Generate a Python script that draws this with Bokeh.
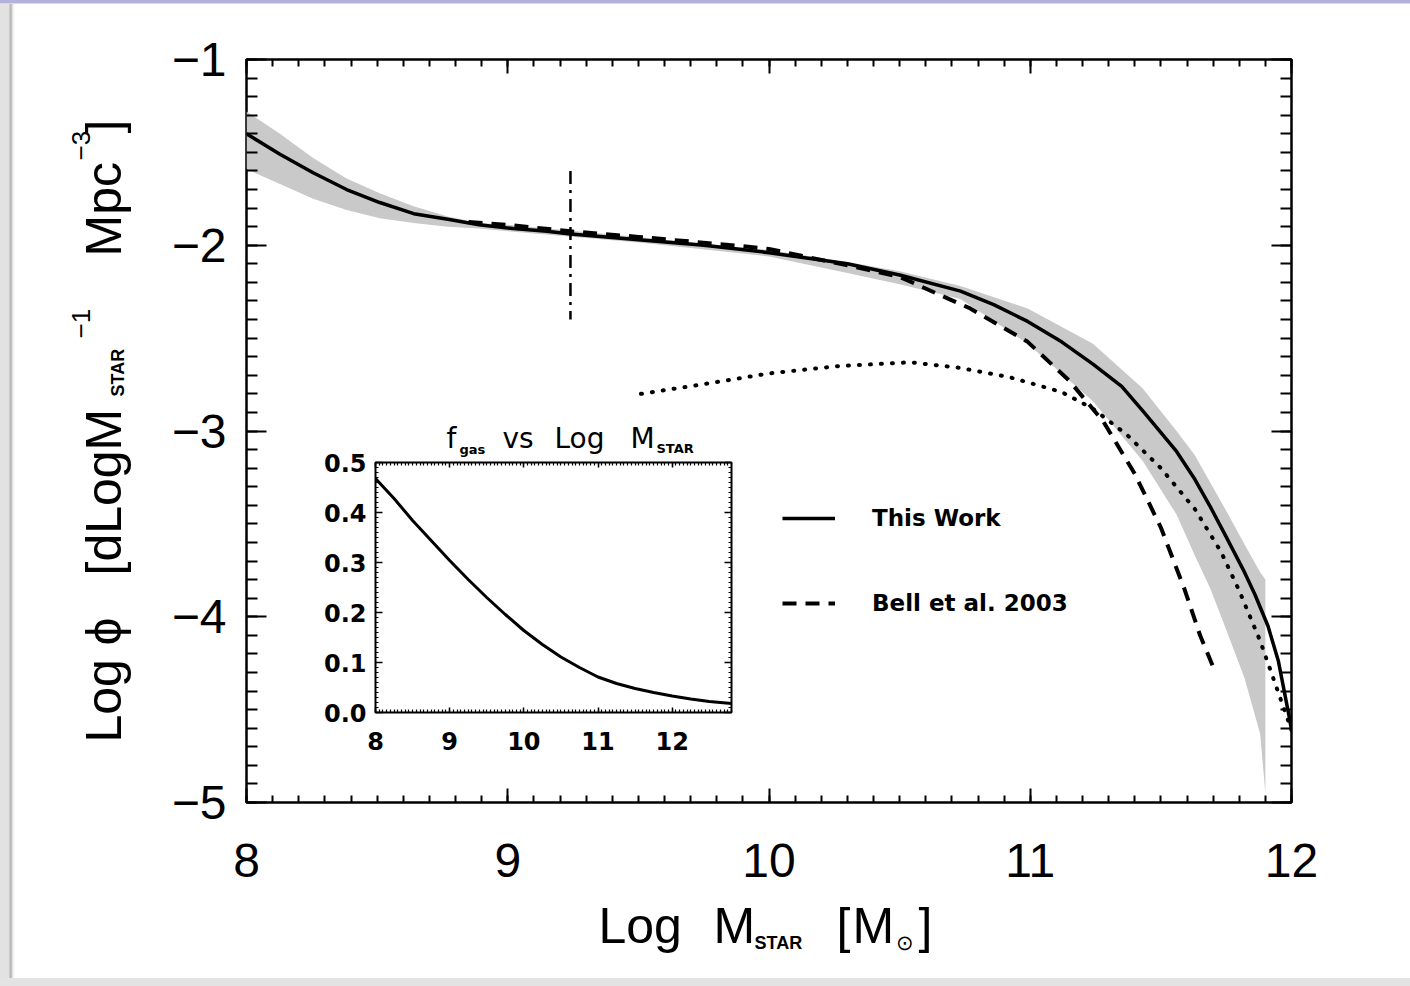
import math

from bokeh.embed import file_html
from bokeh.models import (FixedTicker, Label, Legend, LegendItem, LinearAxis,
                          PrintfTickFormatter, Range1d, SingleIntervalTicker)
from bokeh.plotting import figure
from bokeh.resources import INLINE

# ---------------------------------------------------------------------------
# Stellar mass function: log M_star vs log phi
# ---------------------------------------------------------------------------
band_x = [8.0, 8.128, 8.255, 8.383, 8.51, 8.64, 8.77, 8.89, 9.0, 9.5, 10.0,
          10.3, 10.5, 10.733, 10.99, 11.24, 11.43, 11.56, 11.63, 11.69, 11.75,
          11.82, 11.88, 11.9]
band_hi = [-1.28, -1.40, -1.53, -1.64, -1.72, -1.79, -1.845, -1.88, -1.89,
           -1.955, -2.025, -2.09, -2.14, -2.22, -2.34, -2.53, -2.77, -3.00,
           -3.13, -3.28, -3.43, -3.61, -3.76, -3.80]
band_lo = [-1.59, -1.67, -1.75, -1.81, -1.855, -1.88, -1.90, -1.91, -1.925,
           -1.985, -2.06, -2.15, -2.21, -2.29, -2.53, -2.84, -3.16, -3.45,
           -3.67, -3.85, -4.07, -4.33, -4.63, -4.95]

this_work_x = [8.0, 8.128, 8.255, 8.383, 8.51, 8.64, 8.77, 8.89, 9.02, 9.15,
               9.24, 9.5, 9.75, 10.0, 10.3, 10.5, 10.733, 10.86, 10.99, 11.12,
               11.24, 11.35, 11.43, 11.56, 11.63, 11.69, 11.75, 11.82, 11.86,
               11.91, 11.95, 11.99, 12.0]
this_work_y = [-1.40, -1.51, -1.61, -1.70, -1.77, -1.83, -1.86, -1.89, -1.91,
               -1.925, -1.94, -1.97, -2.00, -2.04, -2.10, -2.16, -2.247, -2.32,
               -2.41, -2.52, -2.64, -2.76, -2.89, -3.11, -3.26, -3.41, -3.57,
               -3.76, -3.88, -4.05, -4.24, -4.53, -4.61]

bell_x = [8.85, 9.0, 9.24, 9.5, 9.9, 10.0, 10.34, 10.5, 10.69, 10.77, 10.99,
          11.15, 11.28, 11.40, 11.50, 11.59, 11.65, 11.70]
bell_y = [-1.875, -1.89, -1.925, -1.955, -2.005, -2.02, -2.12, -2.17, -2.29,
          -2.34, -2.52, -2.73, -2.95, -3.23, -3.52, -3.85, -4.10, -4.27]

dotted_x = [9.51, 9.74, 10.0, 10.27, 10.54, 10.73, 10.92, 11.12, 11.24, 11.37,
            11.50, 11.63, 11.73, 11.80, 11.88, 11.96, 12.0]
dotted_y = [-2.80, -2.75, -2.69, -2.65, -2.63, -2.66, -2.71, -2.79, -2.88,
            -3.02, -3.20, -3.42, -3.65, -3.86, -4.13, -4.45, -4.61]

cut_x = [9.24, 9.24]
cut_y = [-1.60, -2.40]

y_ticks = [-1, -2, -3, -4, -5]
y_tick_labels = ["\u22121", "\u22122", "\u22123", "\u22124", "\u22125"]

legend_labels = ["This Work", "Bell et al. 2003"]

# ---------------------------------------------------------------------------
# Inset: gas fraction vs log M_star
# ---------------------------------------------------------------------------
gas_x = [8.0, 8.25, 8.5, 8.75, 9.0, 9.25, 9.5, 9.75, 10.0, 10.25, 10.5,
         10.75, 11.0, 11.25, 11.5, 11.75, 12.0, 12.25, 12.5, 12.8]
gas_f = [0.468, 0.428, 0.384, 0.344, 0.304, 0.266, 0.23, 0.196, 0.164, 0.136,
         0.111, 0.09, 0.071, 0.058, 0.048, 0.04, 0.033, 0.027, 0.022, 0.018]
inset_x_ticks = [8, 9, 10, 11, 12]
inset_y_ticks = [0.0, 0.1, 0.2, 0.3, 0.4, 0.5]

FONT = "Liberation Sans"
FONT_BOLD = "DejaVu Sans"

# page geometry of the main frame
W, H = 1410, 986
FL, FR, FT, FB = 246, 1291, 59, 802

p = figure(width=W, height=H, output_backend="svg", toolbar_location=None,
           x_range=Range1d(8, 12), y_range=Range1d(-5, -1),
           min_border_left=FL, min_border_right=W - FR,
           min_border_top=FT, min_border_bottom=H - FB,
           background_fill_color="white", border_fill_color=None,
           outline_line_color="black", outline_line_width=2.5,
           x_axis_type=None, y_axis_type=None)
p.xgrid.visible = False
p.ygrid.visible = False
p.styles = {
    "background": (
        "linear-gradient(#b2b2da,#b2b2da) 0 0/100% 3px no-repeat,"
        "linear-gradient(#d9d9d9,#d9d9d9) 0 3px/100% 1px no-repeat,"
        "linear-gradient(#e3e3e3,#e3e3e3) 0 100%/100% 8px no-repeat,"
        "linear-gradient(90deg,#e2e2e2 0px,#e2e2e2 9px,#b6b6b6 10px,"
        "#b6b6b6 11px,#efefef 13px,#ffffff 15px) 0 0/15px 100% no-repeat,"
        "#ffffff"
    )
}


def style_axis(ax, tick_major, tick_minor, show_labels, size="48px",
               font=FONT):
    ax.axis_line_color = None
    ax.major_tick_in = tick_major
    ax.major_tick_out = 0
    ax.minor_tick_in = tick_minor
    ax.minor_tick_out = 0
    ax.major_tick_line_color = "black"
    ax.minor_tick_line_color = "black"
    ax.major_tick_line_width = 2
    ax.minor_tick_line_width = 2
    ax.major_label_text_font = font
    ax.major_label_text_color = "black"
    if show_labels:
        ax.major_label_text_font_size = size
    else:
        ax.major_label_text_font_size = "0px"
        ax.major_label_text_alpha = 0


xtick = SingleIntervalTicker(interval=1, num_minor_ticks=10)
ytick = SingleIntervalTicker(interval=1, num_minor_ticks=10)

xb = LinearAxis(ticker=xtick, major_label_standoff=41)
style_axis(xb, 14, 7, True)
xt = LinearAxis(ticker=xtick)
style_axis(xt, 14, 7, False)
yl = LinearAxis(ticker=ytick, major_label_standoff=20,
                major_label_overrides=dict(zip(y_ticks, y_tick_labels)))
style_axis(yl, 20, 11, True)
yr = LinearAxis(ticker=ytick)
style_axis(yr, 20, 11, False)
p.add_layout(xb, "below")
p.add_layout(xt, "above")
p.add_layout(yl, "left")
p.add_layout(yr, "right")

# uncertainty band and curves
p.varea(x=band_x, y1=band_lo, y2=band_hi, fill_color="#c9c9c9")
r_solid = p.line(this_work_x, this_work_y, line_color="black", line_width=3.5,
                 line_join="round")
r_bell = p.line(bell_x, bell_y, line_color="black", line_width=4,
                line_dash="14 9")
p.line(dotted_x, dotted_y, line_color="black", line_width=4,
       line_dash="1 10", line_cap="round")
p.line(cut_x, cut_y, line_color="black", line_width=2.5,
       line_dash="13 6 3 6")

legend = Legend(items=[LegendItem(label=legend_labels[0], renderers=[r_solid]),
                       LegendItem(label=legend_labels[1], renderers=[r_bell])],
                location=(782 - FL, FB - 618), orientation="vertical",
                padding=0, margin=0, spacing=55, glyph_width=53,
                glyph_height=30, label_height=30, label_standoff=37,
                label_text_font=FONT_BOLD, label_text_font_size="23px",
                label_text_font_style="bold", label_text_color="black",
                border_line_color=None, background_fill_alpha=0)
p.add_layout(legend)

# ---------------------------------------------------------------------------
# inset figure, floated over the main frame
# ---------------------------------------------------------------------------
IL, IT = 300, 410            # page position of the inset canvas
IFL, IFR, IFT, IFB = 375, 731, 462, 712
iw = (IFR - IL) + 12
ih = (IFB - IT) + 50
inset = figure(width=iw, height=ih, output_backend="svg",
               toolbar_location=None,
               x_range=Range1d(8, 12.8), y_range=Range1d(0, 0.5),
               min_border_left=IFL - IL, min_border_right=12,
               min_border_top=IFT - IT, min_border_bottom=50,
               background_fill_color=None, border_fill_color=None,
               outline_line_color="black", outline_line_width=2,
               x_axis_type=None, y_axis_type=None)
inset.xgrid.visible = False
inset.ygrid.visible = False
inset.styles = {"position": "absolute", "left": f"{IL}px", "top": f"{IT}px",
                "z-index": "2"}

ix_minor = [8 + 0.05 * i for i in range(97)]
iy_minor = [0.01 * i for i in range(51)]
ixt = FixedTicker(ticks=inset_x_ticks, minor_ticks=ix_minor)
iyt = FixedTicker(ticks=inset_y_ticks, minor_ticks=iy_minor)


def style_inset_axis(ax, tmaj, tmin, show):
    style_axis(ax, tmaj, tmin, show, size="24px", font=FONT_BOLD)
    ax.major_tick_line_width = 1.5
    ax.minor_tick_line_width = 1.2
    ax.major_label_text_font_style = "bold"


ixb = LinearAxis(ticker=ixt, major_label_standoff=19)
style_inset_axis(ixb, 5, 3, True)
ixa = LinearAxis(ticker=ixt)
style_inset_axis(ixa, 5, 3, False)
iyl = LinearAxis(ticker=iyt, major_label_standoff=9,
                 formatter=PrintfTickFormatter(format="%.1f"))
style_inset_axis(iyl, 7, 3, True)
iyr = LinearAxis(ticker=iyt)
style_inset_axis(iyr, 7, 3, False)
inset.add_layout(ixb, "below")
inset.add_layout(ixa, "above")
inset.add_layout(iyl, "left")
inset.add_layout(iyr, "right")

inset.line(gas_x, gas_f, line_color="black", line_width=3, line_join="round")

# ---------------------------------------------------------------------------
# transparent full-page layer carrying the composite axis titles
# ---------------------------------------------------------------------------
titles = figure(width=W, height=H, output_backend="svg",
                toolbar_location=None, title=None,
                x_range=Range1d(0, W), y_range=Range1d(0, H),
                min_border=0, min_border_left=0, min_border_right=0,
                min_border_top=0, min_border_bottom=0,
                background_fill_color=None, border_fill_color=None,
                outline_line_color=None, x_axis_type=None, y_axis_type=None)
titles.xgrid.visible = False
titles.ygrid.visible = False
titles.styles = {"position": "absolute", "left": "0px", "top": "0px",
                 "z-index": "3", "pointer-events": "none"}


def add_text(px, py, text, size, style="normal", vertical=False, font=FONT):
    """Place a text piece whose baseline starts at page pixel (px, py)."""
    lift = 0.35 * size          # baseline -> middle of the em box
    if vertical:
        ax, ay, ang = px - lift, py, math.pi / 2
    else:
        ax, ay, ang = px, py - lift, 0.0
    titles.add_layout(Label(x=ax, y=H - ay, x_units="data", y_units="data",
                            text=text, text_font=font,
                            text_font_size=f"{size}px", text_font_style=style,
                            text_color="black", text_align="left",
                            text_baseline="middle", angle=ang))


# x-axis title: Log M_STAR [M_sun]
for px, py, txt, sz, st in [(598, 943, "Log", 50, "normal"),
                            (713, 943, "M", 50, "normal"),
                            (754, 949, "STAR", 18, "bold"),
                            (836, 943, "[", 50, "normal"),
                            (852, 943, "M", 50, "normal"),
                            (895, 949, "\u2299", 21, "normal"),
                            (918, 943, "]", 50, "normal")]:
    add_text(px, py, txt, sz, st)

# y-axis title: Log phi [dLogM_STAR^-1 Mpc^-3]
for px, py, txt, sz, st in [(121, 742, "Log", 50, "normal"),
                            (121, 645, "\u03d5", 50, "normal"),
                            (121, 575, "[dLogM", 50, "normal"),
                            (124, 396, "STAR", 18, "bold"),
                            (90, 338, "\u22121", 26, "normal"),
                            (121, 256, "Mpc", 50, "normal"),
                            (90, 160, "\u22123", 26, "normal"),
                            (121, 133, "]", 50, "normal")]:
    add_text(px, py, txt, sz, st, vertical=True)

# inset title: f_gas vs Log M_STAR
for px, py, txt, sz, st in [(446, 448, "f", 28, "normal"),
                            (459, 454, "gas", 13, "bold"),
                            (502, 448, "vs", 28, "normal"),
                            (554, 448, "Log", 28, "normal"),
                            (630, 448, "M", 28, "normal"),
                            (656, 453, "STAR", 13, "bold")]:
    add_text(px, py, txt, sz, st, font=FONT_BOLD)

open("out.html", "w").write(file_html([p, inset, titles], INLINE))
